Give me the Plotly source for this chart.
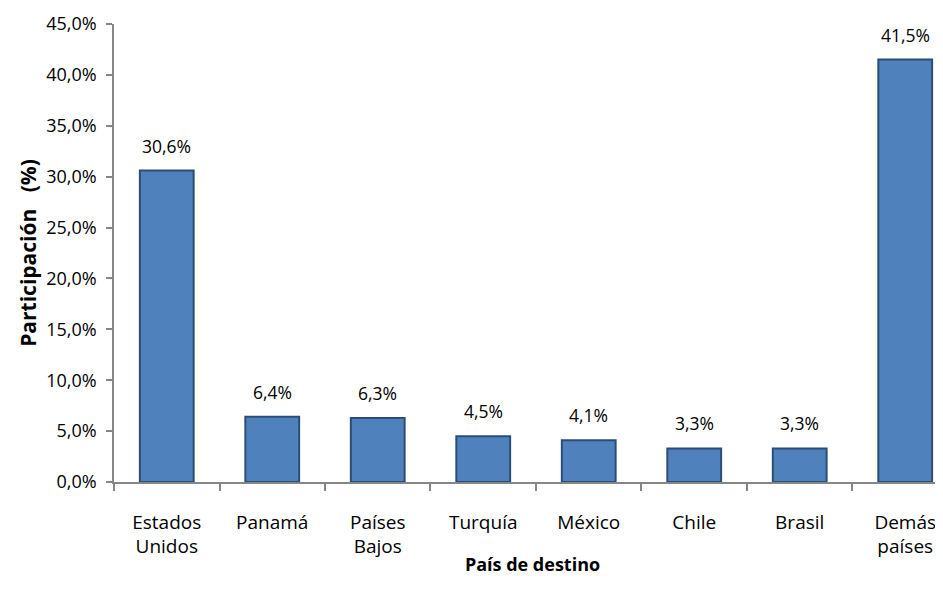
import plotly.graph_objects as go

categories = ["Estados<br>Unidos", "Panamá", "Países<br>Bajos", "Turquía", "México", "Chile", "Brasil", "Demás<br>países"]
values = [30.6, 6.4, 6.3, 4.5, 4.1, 3.3, 3.3, 41.5]
labels = ["30,6%", "6,4%", "6,3%", "4,5%", "4,1%", "3,3%", "3,3%", "41,5%"]
y_ticks = [0, 5, 10, 15, 20, 25, 30, 35, 40, 45]
y_tick_text = ["0,0%", "5,0%", "10,0%", "15,0%", "20,0%", "25,0%", "30,0%", "35,0%", "40,0%", "45,0%"]

FONT = "Open Sans"

fig = go.Figure()
fig.add_trace(go.Bar(
    x=categories,
    y=values,
    marker=dict(color="#4F81BD", line=dict(color="#2C4D75", width=2)),
    width=0.51,
    hoverinfo="skip",
))

for c, v, t in zip(categories, values, labels):
    fig.add_annotation(x=c, y=v, text=t, showarrow=False, yanchor="bottom", yshift=11,
                       font=dict(family=FONT, size=17.5, color="#000000"))

fig.update_layout(
    width=943, height=597,
    margin=dict(l=106, r=0, t=16, b=123),
    paper_bgcolor="white", plot_bgcolor="white",
    showlegend=False,
    font=dict(family=FONT, size=18, color="#000000"),
)
fig.update_xaxes(
    type="category",
    range=[-0.5, 7.434],
    showline=True, linecolor="#868686", linewidth=1.5,
    ticks="outside", tickson="boundaries", ticklen=7, tickcolor="#868686", tickwidth=1.5,
    showgrid=False, zeroline=False,
    ticklabelstandoff=22,
    tickfont=dict(family=FONT, size=19),
    title=dict(text="<b>País de destino</b>", font=dict(family=FONT, size=18), standoff=0),
)
fig.update_yaxes(
    range=[0, 45], tickmode="array", tickvals=y_ticks, ticktext=y_tick_text,
    showline=True, linecolor="#868686", linewidth=1.5,
    ticks="outside", ticklen=6, tickcolor="#868686", tickwidth=1.5,
    showgrid=False, zeroline=False,
    ticklabelstandoff=6,
    tickfont=dict(family=FONT, size=18),
    title=dict(text="<b>Participación\u00a0\u00a0\u00a0(%)</b>", font=dict(family=FONT, size=21), standoff=4),
)

fig.write_html("out.html")
